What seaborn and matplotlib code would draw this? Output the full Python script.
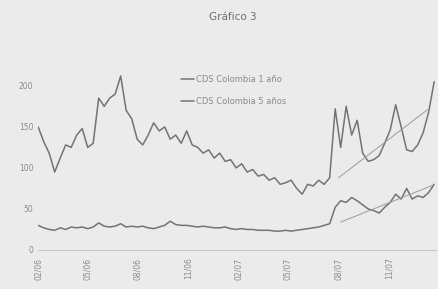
import pandas as pd
import matplotlib.pyplot as plt
import matplotlib.dates as mdates
import seaborn as sns

# --- Data (~10-day spacing) ---
dates = pd.date_range("2006-02-01", periods=73, freq="10D")

cds_5y = [150, 132, 118, 95, 112, 128, 125, 140, 148, 125,
          130, 185, 175, 185, 190, 212, 170, 160, 135, 128,
          140, 155, 145, 150, 135, 140, 130, 145, 128, 125,
          118, 122, 112, 118, 108, 110, 100, 105, 95, 98,
          90, 92, 85, 88, 80, 82, 85, 75, 68, 80,
          78, 85, 80, 88, 172, 125, 175, 140, 158, 118,
          108, 110, 115, 130, 146, 177, 150, 122, 120, 128,
          143, 168, 205]

cds_1y = [30, 27, 25, 24, 27, 25, 28, 27, 28, 26,
          28, 33, 29, 28, 29, 32, 28, 29, 28, 29,
          27, 26, 28, 30, 35, 31, 30, 30, 29, 28,
          29, 28, 27, 27, 28, 26, 25, 26, 25, 25,
          24, 24, 24, 23, 23, 24, 23, 24, 25, 26,
          27, 28, 30, 32, 52, 60, 58, 64, 60, 55,
          50, 48, 45, 52, 58, 68, 62, 75, 62, 66,
          64, 70, 80]

# trend lines drawn on the chart after the August 2007 jump
trend_5y_dates = ["2007-08-01", "2008-01-10"]
trend_5y_vals = [88, 171]
trend_1y_dates = ["2007-08-05", "2008-01-20"]
trend_1y_vals = [34, 79]

tick_dates = pd.date_range("2006-02-01", periods=8, freq="3MS")

line_color = "#737373"
bg = "#ebebeb"

sns.set_style("white")
plt.rcParams["font.family"] = ["DejaVu Sans"]

fig = plt.figure(figsize=(4.39, 2.89), dpi=100, facecolor=bg)
ax = fig.add_axes([0.087, 0.135, 0.907, 0.71], facecolor=bg)

df = pd.DataFrame({"fecha": dates, "CDS Colombia 1 año": cds_5y,
                   "CDS Colombia 5 años": cds_1y})
long = df.melt("fecha", var_name="serie", value_name="pb")

sns.lineplot(data=long, x="fecha", y="pb", hue="serie",
             palette=[line_color, line_color], linewidth=1.1, ax=ax)

ax.plot(pd.to_datetime(trend_5y_dates), trend_5y_vals, color="#9a9a9a", lw=0.7)
ax.plot(pd.to_datetime(trend_1y_dates), trend_1y_vals, color="#9a9a9a", lw=0.7)

ax.set_ylim(0, 250)
ax.set_xlim(pd.Timestamp("2006-02-01"), pd.Timestamp("2008-01-26"))
ax.set_yticks([0, 50, 100, 150, 200])
ax.set_xticks(tick_dates)
ax.xaxis.set_major_formatter(mdates.DateFormatter("%m/%y"))
ax.tick_params(axis="x", labelrotation=90, labelsize=5.5, colors="#8a8a8a",
               length=2, width=0.5)
ax.tick_params(axis="y", labelsize=5.5, colors="#8a8a8a", length=0)
ax.set_xlabel("")
ax.set_ylabel("")

for side in ["top", "right", "left"]:
    ax.spines[side].set_visible(False)
ax.spines["bottom"].set_color("#c4c4c4")
ax.spines["bottom"].set_linewidth(0.7)

leg = ax.legend(loc="upper left", bbox_to_anchor=(0.34, 0.89), frameon=False,
                fontsize=6, handlelength=1.5, handletextpad=0.3,
                labelspacing=1.6, labelcolor="#8a8a8a")

fig.text(0.53, 0.94, "Gráfico 3", ha="center", va="center",
         fontsize=7.5, color="#6e6e6e")

fig.savefig("out.png", dpi=100, facecolor=bg)
